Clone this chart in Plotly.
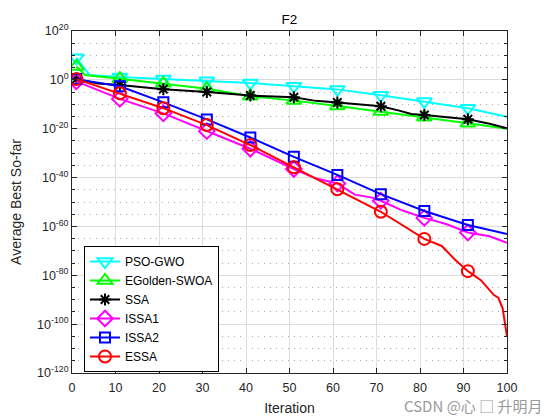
import plotly.graph_objects as go

# ---- data (iteration, log10 of average best so-far) ----
it_psogwo = [1, 4, 11, 21, 31, 41, 51, 61, 71, 81, 91, 100]
lg_psogwo = [9.0, 2.0, 1.2, 0.3, -0.4, -1.3, -2.6, -3.9, -6.3, -8.9, -11.6, -15.1]

it_egold = [1, 3, 11, 21, 31, 41, 51, 61, 71, 81, 91, 100]
lg_egold = [5.5, 2.0, 0.5, -1.4, -3.6, -6.7, -8.5, -10.7, -13.0, -15.3, -17.8, -20.0]

it_ssa = [1, 6, 11, 16, 21, 31, 41, 51, 56, 61, 68, 71, 75, 78, 81, 88, 91, 96, 100]
lg_ssa = [0.3, -1.5, -2.1, -3.0, -3.8, -5.0, -6.4, -7.1, -8.6, -9.3, -10.2, -10.8,
          -12.5, -14.0, -14.4, -15.5, -16.1, -18.0, -19.8]

it_issa1 = [1, 11, 21, 31, 41, 51, 56, 61, 65, 69, 71, 76, 81, 86, 91, 96, 100]
lg_issa1 = [-0.6, -7.8, -13.7, -21.0, -28.2, -36.5, -40.3, -42.4, -47.0, -48.2, -49.5,
            -53.5, -56.5, -59.0, -62.5, -64.0, -66.7]

it_issa2 = [1, 11, 21, 31, 41, 51, 61, 71, 81, 91, 100]
lg_issa2 = [0.3, -2.6, -9.2, -16.2, -23.6, -31.5, -38.9, -46.8, -53.7, -59.4, -63.1]

it_essa = [1, 11, 21, 31, 41, 51, 61, 71, 81, 85, 88, 91, 94, 97, 98, 99, 100]
lg_essa = [0.3, -5.5, -11.6, -18.5, -26.7, -35.8, -44.8, -54.0, -65.1, -68.0, -73.5,
           -78.3, -82.0, -88.1, -89.2, -93.5, -105.1]

marker_iters = [1, 11, 21, 31, 41, 51, 61, 71, 81, 91]

series = [
    ("PSO-GWO", it_psogwo, lg_psogwo, "#00FFFF", "triangle-down-open", 13),
    ("EGolden-SWOA", it_egold, lg_egold, "#00FF00", "triangle-up-open", 13),
    ("SSA", it_ssa, lg_ssa, "#000000", "asterisk-open", 10),
    ("ISSA1", it_issa1, lg_issa1, "#FF00FF", "diamond-open", 12),
    ("ISSA2", it_issa2, lg_issa2, "#0000FF", "square-open", 10),
    ("ESSA", it_essa, lg_essa, "#FF0000", "circle-open", 12),
]

y_tick_exp = [20, 0, -20, -40, -60, -80, -100, -120]
x_ticks = [0, 10, 20, 30, 40, 50, 60, 70, 80, 90, 100]

fig = go.Figure()
for name, its, lgs, color, sym, msize in series:
    vals = [10.0 ** v for v in lgs]
    fig.add_trace(go.Scatter(x=its, y=vals, mode="lines",
                             line=dict(color=color, width=2), showlegend=False,
                             hoverinfo="skip"))
    mx = [i for i in its if i in marker_iters]
    my = [10.0 ** v for i, v in zip(its, lgs) if i in marker_iters]
    fig.add_trace(go.Scatter(x=mx, y=my, mode="markers",
                             marker=dict(symbol=sym, size=msize, color=color,
                                         line=dict(color=color, width=2)),
                             showlegend=False))
    fig.add_trace(go.Scatter(x=[None], y=[None], mode="lines+markers", name=name,
                             line=dict(color=color, width=2),
                             marker=dict(symbol=sym, size=msize, color=color,
                                         line=dict(color=color, width=2))))

font_main = "Liberation Sans, Arial, sans-serif"
txt = "#262626"

minor_y = [10.0 ** e for e in range(-115, 20, 5) if e % 20 != 0]

# the page adds an 8px body margin, so margins are offset by 8px
ML, MR, MT, MB = 64, 61, 23, 55
plot_h = 420 - MT - MB
plot_w = 560 - ML - MR

fig.update_layout(
    width=560, height=420,
    margin=dict(l=ML, r=MR, t=MT, b=MB),
    paper_bgcolor="white", plot_bgcolor="white",
    font=dict(family=font_main, size=12, color=txt),
    title=dict(text="F2", x=0.5, xref="paper", xanchor="center",
               y=1 - 11 / 420, yref="container", yanchor="middle",
               font=dict(size=13.5, color="#000000")),
    showlegend=True,
    legend=dict(x=0.0276, y=(365 - 238) / plot_h, xanchor="left", yanchor="top",
                bgcolor="white", bordercolor="#000000", borderwidth=1,
                font=dict(size=12, color="#000000"), tracegroupgap=0),
    xaxis=dict(range=[0, 100], tickvals=x_ticks, ticktext=[str(v) for v in x_ticks],
               showline=True, linecolor="#262626", linewidth=1, mirror="ticks",
               ticks="inside", ticklen=5, tickcolor="#262626",
               showgrid=True, gridcolor="#DCDCDC", gridwidth=1, zeroline=False,
               ticklabelstandoff=3, automargin=False,
               title=dict(text="Iteration", standoff=9, font=dict(size=14, color=txt)),
               tickfont=dict(size=12.5, color=txt)),
    yaxis=dict(type="log", range=[-120, 20],
               tickvals=[10.0 ** e for e in y_tick_exp],
               ticktext=["10<sup>%d</sup>" % e for e in y_tick_exp],
               showline=True, linecolor="#262626", linewidth=1, mirror="ticks",
               ticks="inside", ticklen=5, tickcolor="#262626",
               showgrid=True, gridcolor="#DCDCDC", gridwidth=1, zeroline=False,
               automargin=False,
               minor=dict(tickvals=minor_y, ticks="inside", ticklen=3,
                          tickcolor="#262626", showgrid=True, gridcolor="#A6A6A6",
                          griddash="1px,5px", gridwidth=1),
               title=dict(text="Average Best So-far", standoff=15,
                          font=dict(size=14, color=txt)),
               tickfont=dict(size=12.5, color=txt)),
)

fig.add_annotation(text="CSDN @心 □ 升明月", xref="paper", yref="paper",
                   x=(537 - ML) / plot_w, y=-(397 - 365) / plot_h, xanchor="right",
                   yanchor="middle", showarrow=False,
                   font=dict(family="Noto Sans CJK SC, sans-serif", size=15,
                             color="#9A9A9A"))

fig.write_html("out.html")
